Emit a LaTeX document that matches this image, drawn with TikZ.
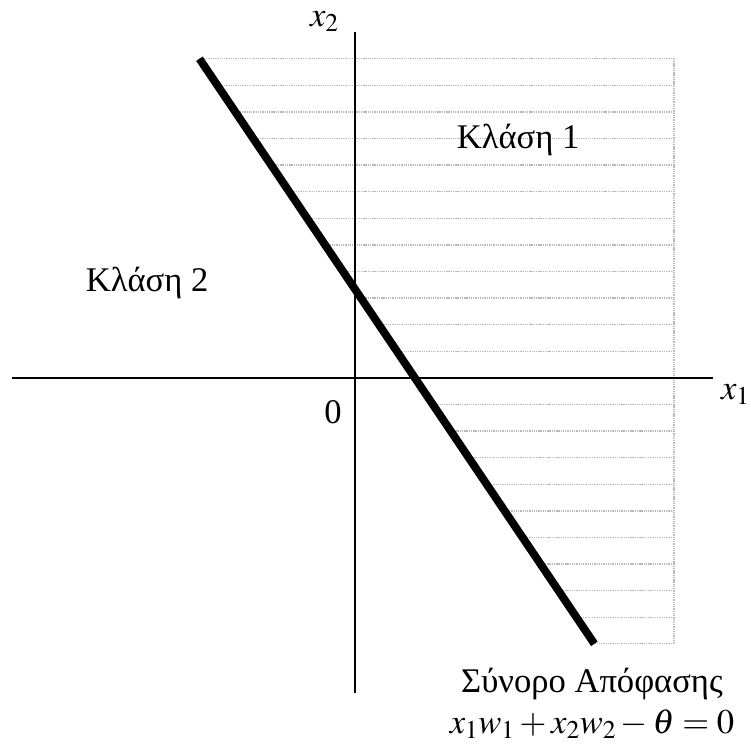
\documentclass[tikz,border=0pt]{standalone}
\usepackage{mathptmx}
\usepackage[no-math]{fontspec}
\setmainfont{Liberation Serif}
\begin{document}
\begin{tikzpicture}[
  axis/.style={line width=1.6pt},
  hatch/.style={gray!55, densely dotted, line width=1.4pt},
  lbl/.style={font=\fontsize{37}{44}\selectfont, inner sep=0pt},
]
\useasboundingbox (-13.35,-13.76) rectangle (14.89,14.21);
% shaded half-plane
\foreach \k in {0,...,22}
  \draw[hatch] ({-5.85+0.675*\k},12-\k) -- (12,12-\k);
\draw[hatch] (12,12) -- (12,-10);
% axes
\draw[axis] (-12.9,0) -- (13.46,0);
\draw[axis] (0,-11.84) -- (0,13);
% decision boundary
\draw[line width=8.5pt] (-5.85,12) -- (9,-10);
\node[lbl] (xone) at (14.3,-0.62) {$x_1$};
\node[lbl] (xtwo) at (-1.15,13.4) {$x_2$};
\node[lbl] (orig) at (-0.83,-1.28) {0};
\node[lbl] (cls1) at (6.13,8.95) {Κλάση 1};
\node[lbl] (cls2) at (-7.82,3.57) {Κλάση 2};
\node[lbl] (bnd) at (8.91,-11.52) {Σύνορο Απόφασης};
\node[lbl] (eqn) at (8.91,-13.02) {$x_1w_1+x_2w_2-\theta=0$};
\end{tikzpicture}
\end{document}
